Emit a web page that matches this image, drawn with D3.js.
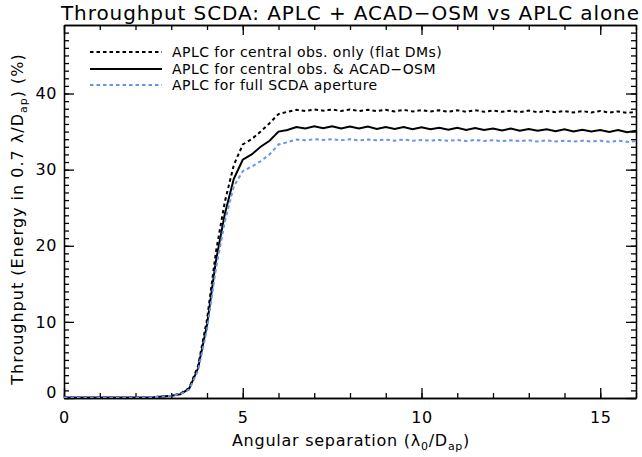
<!DOCTYPE html>
<html><head><meta charset="utf-8">
<script src="https://cdn.jsdelivr.net/npm/d3@7"></script>
<style>body{margin:0;background:#fff}svg{display:block}text{font-family:"DejaVu Sans",sans-serif;fill:#000}</style>
</head><body>
<svg id="c" width="642" height="457"></svg>
<script>
const xs = [0,0.25,0.5,0.75,1,1.25,1.5,1.75,2,2.25,2.5,2.75,3,3.25,3.5,3.75,4,4.25,4.5,4.75,5,5.25,5.5,5.75,6,
 6.25,6.5,6.75,7,7.25,7.5,7.75,8,8.25,8.5,8.75,9,9.25,9.5,9.75,10,10.25,10.5,10.75,11,11.25,11.5,11.75,12,
 12.25,12.5,12.75,13,13.25,13.5,13.75,14,14.25,14.5,14.75,15,15.25,15.5,15.75,16];
const flatDM = [0.05,0.05,0.05,0.05,0.05,0.05,0.05,0.05,0.05,0.08,0.1,0.2,0.3,0.55,1.3,4.2,10.3,19.2,25.8,30.6,33.3,34.0,35.0,36.1,37.3,
 37.6,37.85,37.7,37.9,37.75,37.9,37.7,37.9,37.7,37.85,37.7,37.85,37.65,37.85,37.65,37.8,37.65,37.8,37.6,37.8,37.6,37.8,37.6,37.75,
 37.6,37.75,37.55,37.75,37.55,37.7,37.55,37.7,37.5,37.7,37.5,37.7,37.5,37.65,37.45,37.6];
const acadOsm = [0.05,0.05,0.05,0.05,0.05,0.05,0.05,0.05,0.05,0.08,0.1,0.2,0.3,0.5,1.2,3.9,9.6,18.0,24.2,28.8,31.3,32.0,33.0,33.8,35.0,
 35.2,35.6,35.4,35.7,35.45,35.7,35.4,35.65,35.4,35.65,35.35,35.6,35.35,35.6,35.3,35.55,35.3,35.5,35.25,35.5,35.2,35.45,35.2,35.4,
 35.15,35.4,35.1,35.35,35.1,35.3,35.05,35.3,35.0,35.25,35.0,35.2,34.95,35.2,34.9,35.1];
const fullScda = [0.05,0.05,0.05,0.05,0.05,0.05,0.05,0.05,0.05,0.08,0.1,0.2,0.3,0.5,1.1,3.6,9.0,17.0,23.2,27.8,29.8,30.4,31.1,32.0,33.3,
 33.6,33.95,33.85,34.0,33.9,34.0,33.85,34.0,33.85,33.95,33.85,33.95,33.8,33.95,33.8,33.9,33.8,33.9,33.8,33.9,33.75,33.9,33.75,33.85,
 33.75,33.85,33.75,33.85,33.7,33.85,33.7,33.8,33.7,33.8,33.7,33.8,33.65,33.8,33.65,33.75];
const xMajor = [0,5,10,15];
const yMajor = [0,10,20,30,40];
const xMinor = d3.range(0,17,1);
const yMinor = d3.range(0,49,1);
const seriesNames = ["APLC for central obs. only (flat DMs)","APLC for central obs. & ACAD\u2212OSM","APLC for full SCDA aperture"];
const seriesData = [flatDM, acadOsm, fullScda];
const seriesColor = ["#000","#000","#6495ED"];
const seriesDash = ["3.5,3","none","3.5,3"];
const seriesWidth = [2,2,2];

const svg = d3.select("#c");
const L=64,R=636,T=25,B=398;
const x = d3.scaleLinear().domain([0,16]).range([L,R]);
const y = d3.scaleLinear().domain([0,49]).range([B,T]);

svg.append("defs").append("clipPath").attr("id","clip").append("rect")
  .attr("x",L).attr("y",T).attr("width",R-L).attr("height",B-T);

function styleAxis(g){ g.selectAll("path,line").attr("stroke","#000").attr("stroke-width",1.3); g.selectAll("text").attr("font-size",16).attr("font-family","DejaVu Sans").attr("letter-spacing",0.6); }

// minor ticks
svg.append("g").attr("transform",`translate(0,${B})`).call(d3.axisBottom(x).tickValues(xMinor).tickSize(-5).tickSizeOuter(0).tickFormat("")).call(styleAxis);
svg.append("g").attr("transform",`translate(0,${T})`).call(d3.axisTop(x).tickValues(xMinor).tickSize(-5).tickSizeOuter(0).tickFormat("")).call(styleAxis);
svg.append("g").attr("transform",`translate(${L},0)`).call(d3.axisLeft(y).tickValues(yMinor).tickSize(-5).tickSizeOuter(0).tickFormat("")).call(styleAxis);
svg.append("g").attr("transform",`translate(${R},0)`).call(d3.axisRight(y).tickValues(yMinor).tickSize(-5).tickSizeOuter(0).tickFormat("")).call(styleAxis);
// major ticks
svg.append("g").attr("transform",`translate(0,${B})`).call(d3.axisBottom(x).tickValues(xMajor).tickSize(-10).tickSizeOuter(0).tickPadding(14).tickFormat(d3.format("d"))).call(styleAxis);
svg.append("g").attr("transform",`translate(0,${T})`).call(d3.axisTop(x).tickValues(xMajor).tickSize(-10).tickSizeOuter(0).tickFormat("")).call(styleAxis);
const ya = svg.append("g").attr("transform",`translate(${L},0)`).call(d3.axisLeft(y).tickValues(yMajor).tickSize(-10).tickSizeOuter(0).tickPadding(7).tickFormat(d3.format("d"))).call(styleAxis);
ya.selectAll(".tick").filter(d=>d===0).select("text").attr("dy","-0.02em");
svg.append("g").attr("transform",`translate(${R},0)`).call(d3.axisRight(y).tickValues(yMajor).tickSize(-10).tickSizeOuter(0).tickFormat("")).call(styleAxis);

// curves
const line = d3.line().x((d,i)=>x(xs[i])).y(d=>y(d));
const gl = svg.append("g").attr("clip-path","url(#clip)");
seriesData.forEach((s,i)=>{
  gl.append("path").datum(s).attr("d",line).attr("fill","none")
    .attr("stroke",seriesColor[i]).attr("stroke-width",seriesWidth[i])
    .attr("stroke-dasharray",seriesDash[i]);
});

// legend
const legY = [52,69,85];
seriesNames.forEach((n,i)=>{
  svg.append("line").attr("x1",90).attr("x2",162).attr("y1",legY[i]).attr("y2",legY[i])
    .attr("stroke",seriesColor[i]).attr("stroke-width",seriesWidth[i]).attr("stroke-dasharray",seriesDash[i]);
  svg.append("text").attr("x",172).attr("y",legY[i]+5).attr("font-size",14).attr("letter-spacing",0.46).text(n);
});

// title
svg.append("text").attr("x",350).attr("y",20).attr("text-anchor","middle").attr("font-size",20)
  .attr("textLength",578).attr("lengthAdjust","spacing")
  .text("Throughput SCDA: APLC + ACAD\u2212OSM vs APLC alone");

// x label
const xl = svg.append("text").attr("x",351).attr("y",446).attr("text-anchor","middle").attr("font-size",16).attr("letter-spacing",0.75);
xl.append("tspan").text("Angular separation (\u03bb");
xl.append("tspan").attr("font-size",11).attr("dy",4).text("0");
xl.append("tspan").attr("dy",-4).text("/D");
xl.append("tspan").attr("font-size",11).attr("dy",4).text("ap");
xl.append("tspan").attr("dy",-4).text(")");

// y label
const yl = svg.append("text").attr("transform","translate(23,219) rotate(-90)").attr("text-anchor","middle").attr("font-size",16).attr("letter-spacing",1.0);
yl.append("tspan").text("Throughput (Energy in 0.7 \u03bb/D");
yl.append("tspan").attr("font-size",11).attr("dy",4).text("ap");
yl.append("tspan").attr("dy",-4).text(") (%)");
</script>
</body></html>
